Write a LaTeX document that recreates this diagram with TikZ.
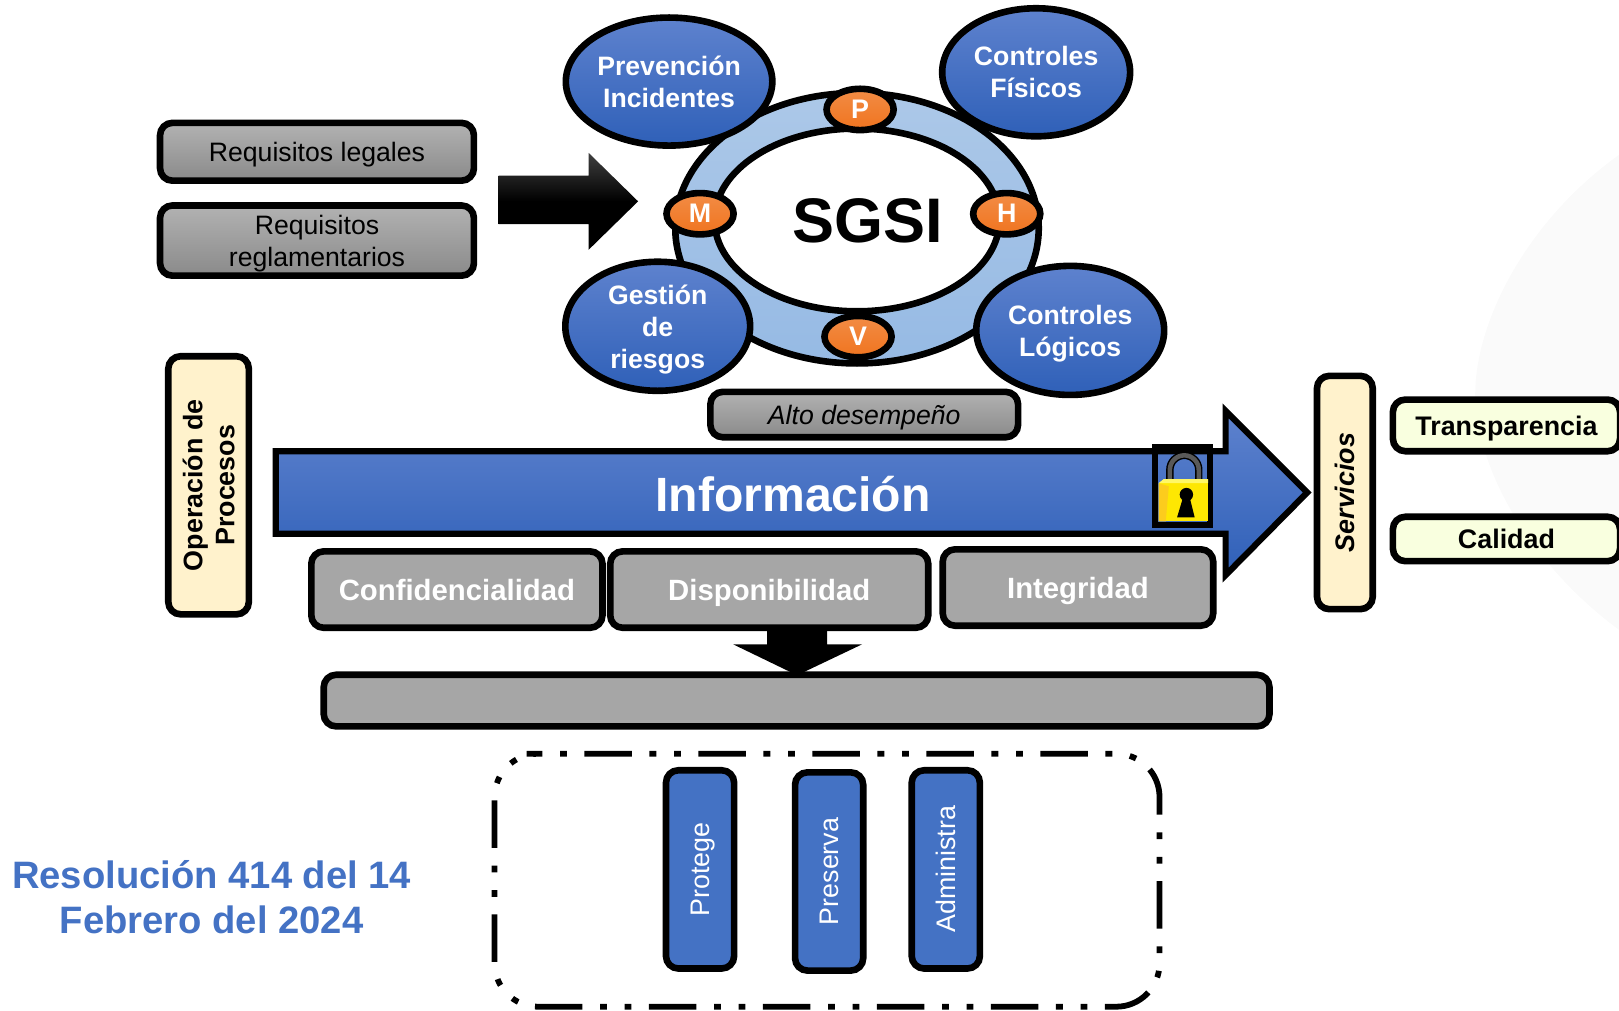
\documentclass[tikz,border=0pt]{standalone}
\usepackage{fontspec}
\setmainfont{Liberation Sans}
\usetikzlibrary{shapes.geometric}
\definecolor{blueA}{HTML}{5E82CE}
\definecolor{blueB}{HTML}{2F60B8}
\definecolor{grayA}{HTML}{B2B2B2}
\definecolor{grayB}{HTML}{8A8A8A}
\definecolor{grayC}{HTML}{A6A6A6}
\definecolor{orA}{HTML}{F28C45}
\definecolor{orB}{HTML}{F0741F}
\definecolor{cream}{HTML}{FFF2CC}
\definecolor{pale}{HTML}{F9FFDF}
\definecolor{solid}{HTML}{4472C4}
\definecolor{ringA}{HTML}{ACC8E8}
\definecolor{ringB}{HTML}{96BAE4}
\newcommand{\fs}[2]{\fontsize{#1}{#2}\selectfont}
\tikzset{
  x=0.5pt,y=-0.5pt,
  base/.style={draw=black,line width=3.2pt,align=center,inner sep=0pt,outer sep=0pt,text depth=-1pt},
  rbox/.style={base,rectangle,rounded corners=6pt},
  graybox/.style={rbox,top color=grayA,bottom color=grayB,text=black,font=\fs{12.9}{15.5}},
  whitebox/.style={rbox,fill=grayC,text=white,font=\bfseries\fs{14.2}{18}},
  creambox/.style={rbox,fill=cream,text=black,font=\bfseries\fs{13}{15.5}},
  palebox/.style={rbox,fill=pale,text=black,font=\bfseries\fs{13}{15.5}},
  solidbox/.style={rbox,fill=solid,text=white,font=\fs{13}{15.5}},
  blob/.style={base,ellipse,top color=blueA,bottom color=blueB,text=white,font=\bfseries\fs{12.9}{15.5}},
  pip/.style={base,ellipse,top color=orA,bottom color=orB,text=white,font=\bfseries\fs{13}{14},minimum width=32.5pt,minimum height=20pt},
}
\begin{document}
\begin{tikzpicture}
\useasboundingbox (0,0) rectangle (1568,978.2);
% pale background swoosh
\fill[black!2] (1568,150) .. controls (1470,220) and (1420,330) .. (1430,400) .. controls (1440,480) and (1500,560) .. (1568,610) -- cycle;

% left boxes
\node[graybox,minimum width=152pt,minimum height=28pt] (legales) at (307,147) {Requisitos legales};
\node[graybox,minimum width=152pt,minimum height=34pt] (regla) at (307,233) {Requisitos\\reglamentarios};

% black arrow
\shade[top color=black!75,bottom color=black,middle color=black] (483,170) -- (570,170) -- (570,148) -- (618,195) -- (570,242) -- (570,217) -- (483,217) -- cycle;

% ring
\node[base,ellipse,top color=ringA,bottom color=ringB,minimum width=176pt,minimum height=131pt] (ring) at (830,221) {};
\node[base,ellipse,fill=white,minimum width=138pt,minimum height=88.5pt] (sgsi) at (830,213) {};
\node[font=\bfseries\fs{30.5}{34}] (sgsilabel) at (840,214) {SGSI};

\node[blob,minimum width=100pt,minimum height=62pt] (prev) at (648,79) {Prevención\\Incidentes};
\node[blob,minimum width=91pt,minimum height=62pt] (fis) at (1003.5,70) {Controles\\Físicos};
\node[blob,minimum width=89.5pt,minimum height=62.5pt] (ges) at (637,316) {Gestión\\de\\riesgos};
\node[blob,minimum width=91pt,minimum height=62.5pt] (log) at (1036.5,320) {Controles\\Lógicos};

\node[pip] (P) at (833,106) {P};
\node[pip] (M) at (678,207) {M};
\node[pip] (H) at (975,207) {H};
\node[pip] (V) at (831,326) {V};

\node[graybox,minimum width=149pt,minimum height=22pt,font=\itshape\fs{12.9}{15.5}] (alto) at (837,401.5) {Alto desempeño};

\node[creambox,rotate=90,minimum width=125pt,minimum height=39pt] (oper) at (202,470) {Operación de\\Procesos};

% info arrow
\shade[top color=blueA,bottom color=blueB] (267,437) -- (1187,437) -- (1187,398) -- (1266,477) -- (1187,557) -- (1187,517) -- (267,517) -- cycle;
\draw[line width=3pt,miter limit=10] (267,437) -- (1187,437) -- (1187,398) -- (1266,477) -- (1187,557) -- (1187,517) -- (267,517) -- cycle;
\node[text=white,font=\bfseries\fs{23.3}{26}] (info) at (768,479) {Información};

% padlock
\draw[line width=3pt] (1118.5,433) rectangle (1172,508.5);
\draw[line width=3.6pt,draw=black] (1133,467) -- (1133,455) arc[start angle=180,end angle=360,x radius=14,y radius=14] -- (1161,467);
\draw[line width=2.2pt,draw=black!65] (1133,467) -- (1133,455) arc[start angle=180,end angle=360,x radius=14,y radius=14] -- (1161,467);
\fill[yellow!90!orange] (1122,468) -- (1170,468) -- (1170,505) -- (1122,505) -- cycle;
\fill[yellow!60!white] (1122,468) -- (1127,464) -- (1170,464) -- (1170,468) -- cycle;
\fill[yellow!60!orange!90!white] (1122,468) -- (1132,471) -- (1129,505) -- (1122,505) -- cycle;
\fill[black] (1149,479) circle[radius=6.5];
\fill[black] (1146,481) -- (1152,481) -- (1157,501) -- (1140,501) -- cycle;

% servicios & outputs
\node[creambox,rotate=90,minimum width=113pt,minimum height=27pt,font=\bfseries\itshape\fs{13}{15.5}] (serv) at (1302.5,477) {Servicios};
\node[palebox,minimum width=110pt,minimum height=25pt] (trans) at (1459,412) {Transparencia};
\node[palebox,minimum width=110pt,minimum height=21.5pt] (cal) at (1459,522) {Calidad};

% qualities
\node[whitebox,minimum width=141pt,minimum height=37pt] (conf) at (442.5,571) {Confidencialidad};
\node[whitebox,minimum width=154pt,minimum height=37pt] (disp) at (745,571) {Disponibilidad};
\node[whitebox,minimum width=131pt,minimum height=37pt] (inte) at (1044,569) {Integridad};

% down arrow
\fill[black] (743,610) -- (801,610) -- (801,624) -- (835,624) -- (772,654) -- (710,624) -- (743,624) -- cycle;
\node[rbox,fill=grayC,minimum width=458pt,minimum height=25pt] (bar) at (771.5,678.5) {};

% dashed container
\draw[line width=2.8pt,dash pattern=on 23pt off 8.5pt on 3.3pt off 8.6pt on 3.3pt off 8.5pt,dash phase=27.2pt]
 (510,730) -- (1081,730) arc[start angle=-90,end angle=0,radius=42] -- (1123,933) arc[start angle=0,end angle=90,radius=42] -- (521,975) arc[start angle=90,end angle=180,radius=42] -- (479,772) arc[start angle=180,end angle=270,radius=42] -- cycle;

\node[solidbox,rotate=90,minimum width=96pt,minimum height=33pt] (prot) at (678,842) {Protege};
\node[solidbox,rotate=90,minimum width=96pt,minimum height=33pt] (pres) at (803,844) {Preserva};
\node[solidbox,rotate=90,minimum width=96pt,minimum height=33pt] (admi) at (916,842) {Administra};

\node[text=solid,align=center,font=\bfseries\fs{18.5}{21.5}] (res) at (205,869) {Resolución 414 del 14\\Febrero del 2024};
\end{tikzpicture}
\end{document}
